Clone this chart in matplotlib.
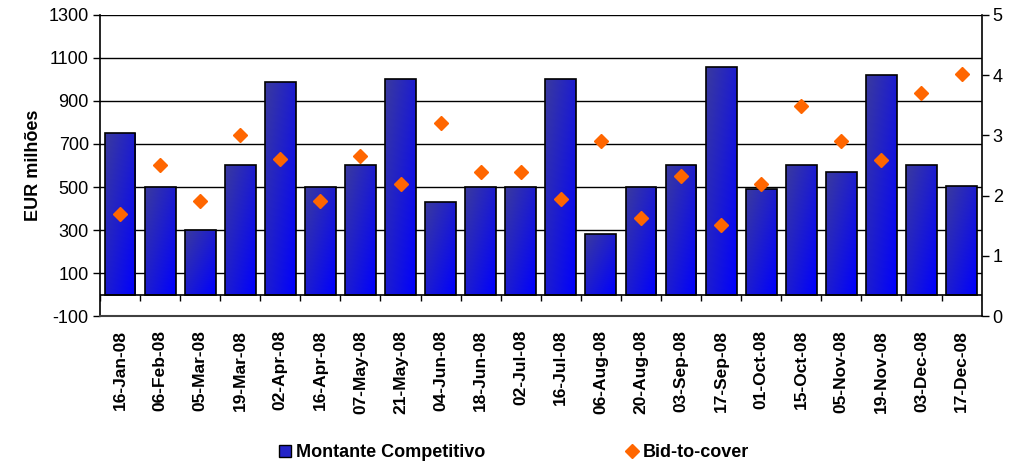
import numpy as np
import matplotlib
matplotlib.use("Agg")
from matplotlib import pyplot as plt
from matplotlib.colors import LinearSegmentedColormap
from matplotlib.lines import Line2D

plt.rcParams['font.family'] = ['Liberation Sans', 'DejaVu Sans']
plt.rcParams['axes.unicode_minus'] = False

# Auction dates
dates = ["16-Jan-08", "06-Feb-08", "05-Mar-08", "19-Mar-08", "02-Apr-08", "16-Apr-08",
         "07-May-08", "21-May-08", "04-Jun-08", "18-Jun-08", "02-Jul-08", "16-Jul-08",
         "06-Aug-08", "20-Aug-08", "03-Sep-08", "17-Sep-08", "01-Oct-08", "15-Oct-08",
         "05-Nov-08", "19-Nov-08", "03-Dec-08", "17-Dec-08"]
# Montante Competitivo (EUR milhoes)
montante = [750, 500, 300, 600, 990, 500, 600, 1000, 430, 500, 500, 1000,
            280, 500, 600, 1060, 490, 600, 570, 1020, 600, 505]
# Bid-to-cover ratio
bid_to_cover = [1.70, 2.50, 1.91, 3.00, 2.60, 1.91, 2.65, 2.19, 3.21, 2.40, 2.40, 1.94,
                2.90, 1.63, 2.32, 1.51, 2.19, 3.49, 2.90, 2.59, 3.71, 4.02]

x = np.arange(len(dates))

fig = plt.figure(figsize=(10.13, 4.61), dpi=100)
ax = fig.add_axes([0.0987, 0.3145, 0.8703, 0.653])

# bars with a diagonal blue gradient
cmap = LinearSegmentedColormap.from_list("bluegrad", ["#3a3a9e", "#0000ff"])
n = 64
gi, gj = np.mgrid[0:n, 0:n]
grad = (gi + gj) / (2.0 * (n - 1))
bars = ax.bar(x, montante, width=0.77, facecolor="none", edgecolor="black",
              linewidth=1.2, zorder=3)
for b in bars:
    x0, w, h = b.get_x(), b.get_width(), b.get_height()
    im = ax.imshow(grad, extent=[x0, x0 + w, 0, h], cmap=cmap, aspect="auto",
                   origin="upper", zorder=2.5, interpolation="bilinear")
    im.set_clip_path(b)

ax.axhline(0, color="black", lw=1.2, zorder=4)
# category separator ticks on the zero line
ax.vlines(np.arange(len(dates) + 1) - 0.5, -30, 0, color="black", lw=1, zorder=4)

ax.set_xlim(-0.5, len(dates) - 0.5)
ax.set_ylim(-100, 1300)
ax.set_yticks(np.arange(-100, 1301, 200))
ax.yaxis.grid(True, color="black", lw=1)
ax.set_axisbelow(True)
ax.set_xticks(x)
ax.set_xticklabels(dates, rotation=90, fontsize=12.5, fontweight="bold")
ax.tick_params(axis="x", length=0, pad=10)
ax.tick_params(axis="y", labelsize=13, length=5, width=1, pad=3)
ax.set_ylabel("EUR milhões", fontsize=13, fontweight="bold", labelpad=5)
ax.spines["top"].set_visible(False)
ax.spines["right"].set_visible(False)
ax.spines["left"].set_linewidth(1.2)
ax.spines["bottom"].set_color("#404040")
ax.spines["bottom"].set_linewidth(1.5)

ax2 = ax.twinx()
ax2.plot(x, bid_to_cover, linestyle="none", marker="D", markersize=7.5,
         color="#ff6600", zorder=5)
ax2.set_ylim(0, 5)
ax2.set_yticks(range(0, 6))
ax2.tick_params(axis="y", labelsize=13, length=5, width=1, pad=3)
ax2.spines["top"].set_visible(False)
ax2.spines["left"].set_visible(False)
ax2.spines["bottom"].set_visible(False)
ax2.spines["right"].set_linewidth(1.2)

handles = [
    Line2D([], [], linestyle="none", marker="s", markersize=8,
           markerfacecolor="#2424c8", markeredgecolor="black", markeredgewidth=1),
    Line2D([], [], linestyle="none", marker="D", markersize=7, color="#ff6600"),
]
fig.legend(handles, ["Montante Competitivo", "Bid-to-cover"], loc="lower center",
           bbox_to_anchor=(0.506, -0.035), ncol=2, frameon=False, columnspacing=7.6,
           handletextpad=0.1, handlelength=1.0, prop={"size": 13, "weight": "bold"})

fig.savefig("out.png", dpi=100)
